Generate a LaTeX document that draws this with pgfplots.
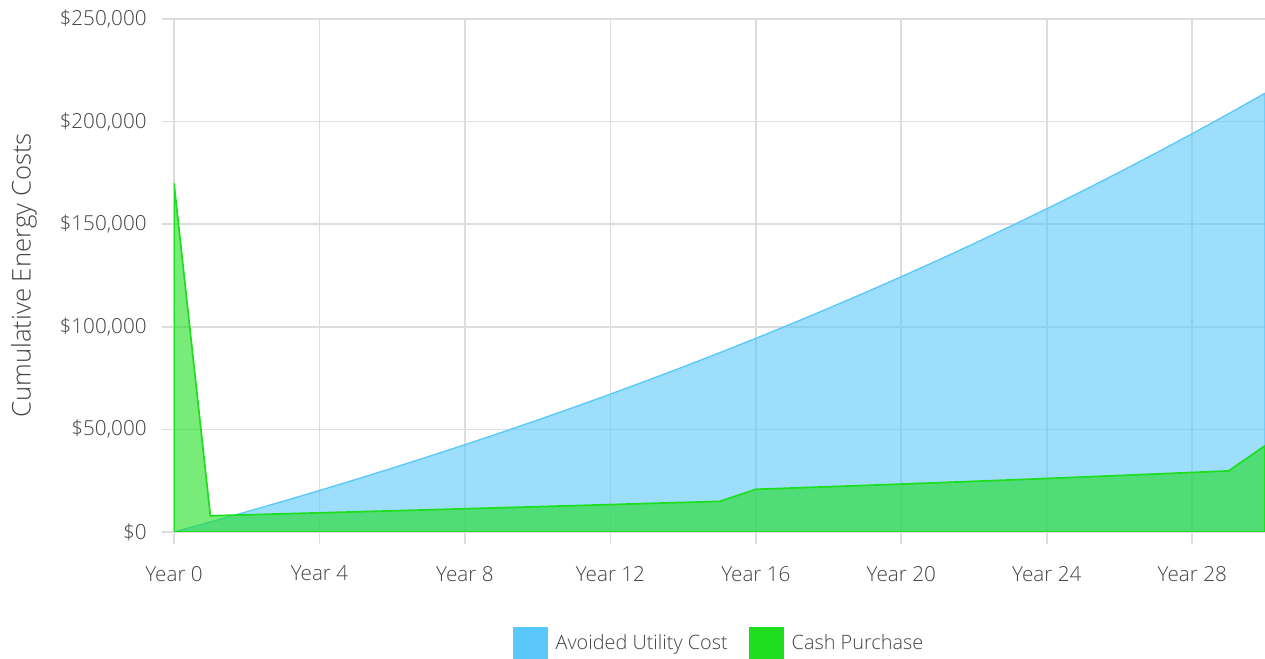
\documentclass[border=0pt]{standalone}
\usepackage{fontspec}
\IfFontExistsTF{Open Sans Light}{\setmainfont{Open Sans Light}}{\setmainfont{Open Sans}}
\usepackage{pgfplots}
\pgfplotsset{compat=1.18}
\definecolor{blueC}{HTML}{5AC8FA}
\definecolor{greenC}{HTML}{1FDE1F}
\definecolor{gridC}{HTML}{DDDDDD}
\definecolor{txtC}{HTML}{444444}
\begin{document}
\begin{tikzpicture}
\path[use as bounding box] (-130.5pt,-95.25pt) rectangle (818.25pt,399pt);
\begin{axis}[
  at={(0pt,0pt)}, anchor=south west,
  scale only axis, width=818.25pt, height=384.75pt,
  xmin=0, xmax=30, ymin=0, ymax=250000,
  xtick={0,4,...,28}, ytick={0,50000,...,250000},
  xticklabel={Year \pgfmathprintnumber{\tick}},
  yticklabel={\$\pgfmathprintnumber[fixed,precision=0,1000 sep={,}]{\tick}},
  scaled y ticks=false,
  /pgf/number format/assume math mode=true,
  axis line style={draw=none},
  grid=major, major grid style={gridC, line width=1.3pt},
  tick align=outside, major tick length=9pt,
  xtick pos=bottom, ytick pos=left,
  every tick/.style={gridC, line width=1.3pt},
  xticklabel style={font=\fontsize{15.5}{17}\selectfont, text=txtC, yshift=-13pt},
  yticklabel style={font=\fontsize{15.5}{17}\selectfont, text=txtC, xshift=-8pt},
  ylabel={Cumulative Energy Costs},
  ylabel style={at={(axis description cs:-0.1375,0.5)}, anchor=center, font=\fontsize{19.3}{21}\selectfont, text=txtC},
  legend columns=2,
  legend style={at={(0.5,-0.2164)}, anchor=center, draw=none, fill=none,
    font=\fontsize{14.9}{17}\selectfont, text=txtC,
    /tikz/every even column/.append style={column sep=14pt}},
  legend cell align=left,
  clip=true,
]
\addplot[draw=blueC, line width=1pt, fill=blueC, fill opacity=0.6, forget plot] coordinates {
(0,0) (1,4870) (2,9862) (3,14978) (4,20223) (5,25598) (6,31108) (7,36756) (8,42545) (9,48479) (10,54561)
(11,60795) (12,67184) (13,73734) (14,80447) (15,87328) (16,94382) (17,101611) (18,109022) (19,116617) (20,124402)
(21,132383) (22,140562) (23,148946) (24,157540) (25,166348) (26,175377) (27,184631) (28,194117) (29,203840) (30,213806)
} \closedcycle;
\addplot[draw=greenC, line width=1.3pt, fill=greenC, fill opacity=0.6, forget plot] coordinates {
(0,170000) (1,7900) (2,8370) (3,8850) (4,9330) (5,9820) (6,10310) (7,10810) (8,11310) (9,11820) (10,12330)
(11,12840) (12,13360) (13,13880) (14,14400) (15,14900) (16,20800) (17,21420) (18,22050) (19,22690) (20,23340)
(21,24000) (22,24680) (23,25370) (24,26070) (25,26790) (26,27520) (27,28260) (28,29010) (29,29780) (30,42000)
} \closedcycle;
\addlegendimage{legend image code/.code={\fill[blueC] (0pt,-12pt) rectangle (25.5pt,12pt); \path (29.5pt,0pt);}}
\addlegendentry{Avoided Utility Cost}
\addlegendimage{legend image code/.code={\fill[greenC] (0pt,-12pt) rectangle (25.5pt,12pt); \path (29.5pt,0pt);}}
\addlegendentry{Cash Purchase}
\end{axis}
\end{tikzpicture}
\end{document}
